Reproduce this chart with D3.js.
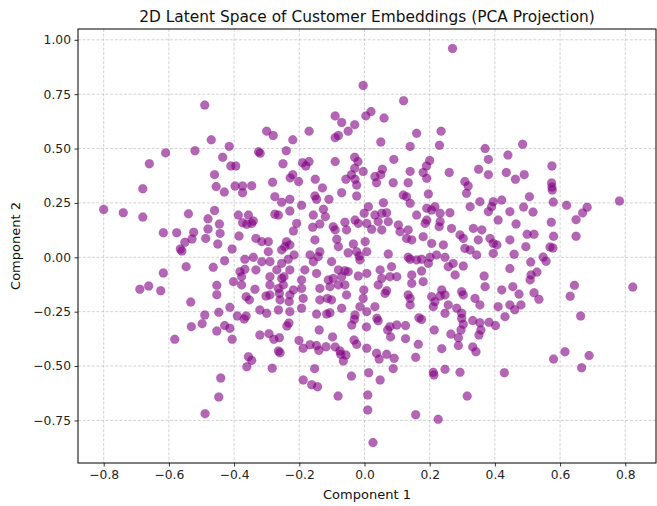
<!DOCTYPE html>
<html>
<head>
<meta charset="utf-8">
<script src="https://cdn.jsdelivr.net/npm/d3@7"></script>
<style>
  body { margin: 0; background: #fff; }
  svg { display: block; }
  text { font-family: "DejaVu Sans", sans-serif; }
</style>
</head>
<body>
<svg id="chart" width="657" height="506"></svg>
<script>
// PCA projection of customer embeddings: first and second principal components
const component1 = [
  -0.49,-0.47,-0.61,-0.52,-0.66,-0.435,-0.46,-0.004,-0.09,0.004,
  -0.07,-0.03,-0.05,-0.08,-0.09,-0.17,-0.30,-0.28,-0.22,-0.24,
  -0.325,-0.32,-0.415,-0.41,-0.395,-0.25,-0.19,-0.17,-0.18,-0.22,
  -0.09,-0.03,-0.02,-0.03,-0.04,0.27,0.12,0.02,0.06,0.16,
  0.235,0.05,0.14,0.23,0.09,0.20,0.19,0.18,0.14,0.055,
  0.05,0.26,0.37,0.38,0.35,0.38,0.44,0.435,0.485,0.575,
  0.49,-0.455,-0.43,-0.68,-0.80,-0.74,-0.68,-0.54,-0.46,-0.48,
  -0.445,-0.48,-0.443,-0.617,-0.576,-0.524,-0.529,-0.551,-0.487,-0.450,
  -0.565,-0.560,-0.429,-0.547,-0.464,-0.617,-0.689,-0.662,-0.625,-0.453,
  -0.453,-0.533,-0.490,-0.447,-0.531,-0.498,-0.453,-0.429,-0.582,-0.441,
  -0.447,-0.489,0.663,0.580,0.615,0.689,0.666,0.463,0.574,0.575,
  0.576,0.506,0.579,0.488,0.517,0.446,0.620,0.683,0.669,0.649,
  0.782,0.573,0.465,0.499,0.520,0.580,0.649,0.446,0.495,0.569,
  0.578,0.459,0.548,0.557,0.510,0.446,0.529,0.511,0.508,0.455,
  0.644,0.823,0.474,0.520,0.535,0.631,0.446,0.480,0.461,-0.390,
  -0.369,-0.363,-0.413,-0.406,-0.232,-0.238,-0.031,-0.039,0.006,-0.139,
  -0.321,-0.293,-0.278,-0.261,-0.264,-0.259,-0.356,-0.346,-0.361,-0.283,
  -0.201,-0.188,-0.167,-0.147,-0.140,-0.118,-0.098,-0.090,-0.075,-0.073,
  -0.057,-0.065,-0.032,-0.024,0.007,-0.188,-0.162,-0.144,-0.153,-0.040,
  -0.081,0.010,0.010,0.013,0.026,0.038,0.042,0.071,0.078,0.099,
  0.126,0.080,0.126,0.167,0.175,0.165,0.157,0.037,0.045,0.068,
  0.091,0.088,0.048,0.157,0.226,0.214,0.211,0.213,0.247,0.293,
  0.315,0.237,0.265,0.288,0.288,0.296,0.303,0.298,0.332,0.354,
  0.357,0.351,0.382,0.402,0.332,0.342,0.429,-0.228,-0.202,-0.282,
  -0.151,-0.129,-0.057,-0.029,-0.024,-0.004,-0.397,-0.374,-0.346,-0.374,
  -0.275,-0.254,-0.229,-0.152,-0.147,-0.109,-0.070,-0.024,-0.193,-0.126,
  0.012,-0.387,-0.356,-0.275,-0.264,-0.229,-0.157,-0.137,-0.120,-0.096,
  -0.090,-0.374,-0.361,-0.346,-0.341,-0.208,-0.218,-0.060,-0.055,-0.029,
  -0.019,-0.001,0.007,-0.159,-0.385,-0.333,-0.315,-0.295,-0.239,-0.229,
  -0.244,-0.254,-0.216,-0.152,-0.085,-0.080,-0.034,0.002,-0.406,-0.295,
  -0.167,-0.137,-0.142,-0.050,-0.024,-0.016,0.007,-0.367,-0.341,-0.315,
  -0.290,-0.254,-0.234,-0.183,-0.157,-0.101,-0.060,-0.080,-0.014,-0.367,
  -0.333,-0.269,-0.229,-0.382,-0.402,-0.377,-0.290,-0.254,-0.247,-0.193,
  -0.147,-0.111,-0.096,-0.070,-0.050,-0.019,0.007,-0.377,-0.336,-0.290,
  -0.249,-0.264,-0.218,-0.193,-0.137,-0.106,-0.080,-0.060,-0.002,-0.363,
  -0.353,-0.302,-0.290,-0.261,-0.259,-0.229,-0.231,-0.188,-0.137,-0.114,
  -0.101,-0.055,-0.004,-0.413,-0.321,-0.300,-0.264,-0.229,-0.193,-0.147,
  -0.116,-0.106,-0.070,-0.029,-0.014,0.007,0.032,0.037,0.088,0.134,
  0.191,0.308,0.318,0.313,0.119,0.129,0.140,0.196,0.058,0.191,
  0.206,0.216,0.262,0.232,0.324,0.354,0.390,0.395,0.421,0.032,
  0.053,0.068,0.042,0.073,0.104,0.160,0.186,0.191,0.232,0.229,
  0.267,0.380,0.410,0.022,0.053,0.109,0.134,0.129,0.145,0.180,
  0.206,0.242,0.293,0.303,0.308,0.324,0.334,0.360,0.349,0.385,
  0.395,0.406,0.395,0.073,0.134,0.140,0.160,0.201,0.221,0.175,
  0.196,0.247,0.257,0.272,0.303,0.344,0.367,0.048,0.083,0.099,
  0.078,0.053,0.145,0.175,0.278,0.042,0.068,0.063,0.145,0.180,
  0.237,0.247,0.232,0.298,0.303,0.370,0.421,0.134,0.140,0.032,
  0.206,0.216,0.211,0.257,0.283,0.298,0.339,0.354,0.410,0.140,
  0.247,0.431
];

const component2 = [
  0.70,0.54,0.48,0.49,0.43,0.46,0.38,0.79,0.65,0.65,
  0.62,0.61,0.58,0.56,0.55,0.58,0.58,0.56,0.54,0.49,
  0.485,0.478,0.51,0.42,0.42,0.43,0.435,0.44,0.42,0.38,
  0.44,0.46,0.44,0.41,0.38,0.96,0.72,0.67,0.64,0.57,
  0.58,0.53,0.51,0.515,0.45,0.445,0.42,0.39,0.395,0.405,
  0.38,0.39,0.50,0.45,0.405,0.38,0.47,0.39,0.52,0.42,
  0.38,0.325,0.30,0.315,0.22,0.205,0.185,0.20,0.215,0.177,
  0.153,0.13,0.11,0.113,0.113,0.115,0.084,0.069,0.087,0.061,
  0.038,0.029,-0.016,-0.043,-0.046,-0.072,-0.147,-0.132,-0.154,-0.129,
  -0.172,-0.206,-0.265,-0.253,-0.319,-0.305,-0.339,-0.314,-0.377,-0.555,
  -0.642,-0.719,-0.270,-0.468,-0.434,-0.452,-0.508,0.359,0.342,0.323,
  0.309,0.279,0.254,0.231,0.208,0.210,0.239,0.230,0.204,0.173,
  0.259,0.161,0.153,0.106,0.106,0.097,0.097,0.080,0.049,0.047,
  0.043,0.014,0.001,-0.018,-0.022,-0.052,-0.068,-0.081,-0.104,-0.135,
  -0.129,-0.137,-0.169,-0.163,-0.193,-0.179,-0.219,-0.219,-0.241,-0.270,
  -0.284,-0.270,-0.326,-0.377,-0.302,-0.316,-0.285,-0.311,-0.320,-0.334,
  -0.357,-0.351,-0.377,-0.370,-0.431,-0.439,-0.457,-0.474,-0.503,-0.510,
  -0.382,-0.418,-0.402,-0.406,-0.428,-0.411,-0.366,-0.412,-0.431,-0.446,
  -0.449,-0.477,-0.380,-0.400,-0.418,-0.564,-0.586,-0.595,-0.512,-0.546,
  -0.638,-0.633,-0.702,-0.531,-0.852,-0.280,-0.292,-0.334,-0.319,-0.311,
  -0.314,-0.366,-0.374,-0.278,-0.286,-0.400,-0.460,-0.441,-0.468,-0.446,
  -0.464,-0.512,-0.564,-0.724,-0.745,-0.334,-0.529,-0.541,-0.515,-0.529,
  -0.638,-0.420,-0.353,-0.370,-0.406,-0.334,-0.308,-0.280,-0.291,-0.301,
  -0.334,-0.357,-0.299,-0.314,-0.412,-0.434,-0.531,0.365,0.348,0.345,
  0.359,0.319,0.359,0.359,0.332,0.394,0.328,0.328,0.329,0.297,
  0.279,0.253,0.267,0.282,0.267,0.267,0.297,0.282,0.239,0.221,
  0.233,0.194,0.194,0.198,0.194,0.213,0.194,0.153,0.187,0.141,
  0.126,0.159,0.152,0.156,0.167,0.156,0.121,0.161,0.126,0.171,
  0.156,0.202,0.156,0.138,0.098,0.087,0.072,0.072,0.072,0.057,
  0.049,0.034,0.011,0.080,0.083,0.049,0.061,0.072,0.038,0.026,
  0.011,0.026,0.003,0.021,0.026,0.006,0.026,-0.009,0.000,-0.020,
  -0.020,-0.028,-0.009,-0.058,-0.020,-0.020,-0.062,-0.058,-0.012,-0.055,
  -0.058,-0.058,-0.058,-0.066,-0.112,-0.089,-0.089,-0.097,-0.089,-0.104,
  -0.074,-0.104,-0.097,-0.089,-0.066,-0.086,-0.074,-0.127,-0.147,-0.127,
  -0.127,-0.143,-0.150,-0.143,-0.143,-0.135,-0.127,-0.127,-0.150,-0.181,
  -0.196,-0.178,-0.173,-0.166,-0.196,-0.173,-0.204,-0.189,-0.196,-0.189,
  -0.196,-0.173,-0.189,-0.230,-0.242,-0.257,-0.242,-0.250,-0.234,-0.261,
  -0.261,-0.255,-0.234,-0.265,-0.227,-0.250,0.371,0.343,0.343,0.343,
  0.363,0.348,0.328,0.294,0.286,0.279,0.248,0.291,0.251,0.225,
  0.217,0.233,0.205,0.202,0.233,0.256,0.233,0.256,0.263,0.194,
  0.202,0.205,0.164,0.164,0.149,0.194,0.156,0.171,0.164,0.141,
  0.133,0.210,0.171,0.129,0.126,0.118,0.126,0.087,0.080,0.095,
  0.064,0.057,0.103,0.087,0.041,0.034,0.133,0.126,0.080,0.087,
  0.064,0.057,0.018,0.015,0.000,-0.009,-0.012,0.000,0.011,-0.009,
  -0.028,0.000,-0.043,-0.028,-0.040,0.011,-0.086,-0.058,-0.043,-0.089,
  -0.089,-0.097,-0.081,-0.063,-0.081,-0.127,-0.154,-0.166,-0.120,-0.112,
  -0.150,-0.173,-0.178,-0.158,-0.173,-0.135,-0.150,-0.173,-0.189,-0.227,
  -0.181,-0.204,-0.227,-0.219,-0.234,-0.257,-0.189,-0.219,-0.227,-0.219,
  -0.257,-0.273
];

const xTickValues = [-0.8, -0.6, -0.4, -0.2, 0.0, 0.2, 0.4, 0.6, 0.8];
const yTickValues = [-0.75, -0.50, -0.25, 0.00, 0.25, 0.50, 0.75, 1.00];

const titleText = "2D Latent Space of Customer Embeddings (PCA Projection)";
const xLabelText = "Component 1";
const yLabelText = "Component 2";

const points = component1.map((c1, i) => ({ c1, c2: component2[i] }));

const svg = d3.select("#chart");
const plot = { left: 78, right: 656, top: 29, bottom: 463 };

const x = d3.scaleLinear().domain([-0.8788, 0.8942]).range([plot.left, plot.right]);
const y = d3.scaleLinear().domain([-0.9457, 1.0497]).range([plot.bottom, plot.top]);

const minus = s => s.replace("-", "\u2212");

// dashed grid
const grid = svg.append("g").attr("class", "grid")
  .attr("stroke", "#b0b0b0").attr("stroke-width", 0.8)
  .attr("stroke-dasharray", "3,1.6").attr("stroke-opacity", 0.7);
grid.selectAll("line.v").data(xTickValues).join("line").attr("class", "v")
  .attr("x1", d => x(d)).attr("x2", d => x(d))
  .attr("y1", plot.top).attr("y2", plot.bottom);
grid.selectAll("line.h").data(yTickValues).join("line").attr("class", "h")
  .attr("y1", d => y(d)).attr("y2", d => y(d))
  .attr("x1", plot.left).attr("x2", plot.right);

// scatter
svg.append("g").selectAll("circle").data(points).join("circle")
  .attr("cx", d => x(d.c1)).attr("cy", d => y(d.c2))
  .attr("r", 4.5)
  .attr("fill", "#800080").attr("fill-opacity", 0.6)
  .attr("stroke", "#800080").attr("stroke-opacity", 0.2).attr("stroke-width", 0.6);

// axes
const xAxis = d3.axisBottom(x).tickValues(xTickValues)
  .tickFormat(d => minus(d3.format(".1f")(d))).tickSize(3.5).tickPadding(3.5);
const yAxis = d3.axisLeft(y).tickValues(yTickValues)
  .tickFormat(d => minus(d3.format(".2f")(d))).tickSize(3.5).tickPadding(3.5);

const gx = svg.append("g").attr("transform", `translate(0,${plot.bottom})`).call(xAxis);
const gy = svg.append("g").attr("transform", `translate(${plot.left},0)`).call(yAxis);
[gx, gy].forEach(g => {
  g.select(".domain").remove();
  g.selectAll(".tick line").attr("stroke", "#000").attr("stroke-width", 0.8);
  g.selectAll(".tick text").attr("fill", "#222").attr("font-size", 12.3)
    .attr("font-family", "DejaVu Sans, sans-serif");
});

// frame
svg.append("rect")
  .attr("x", plot.left).attr("y", plot.top)
  .attr("width", plot.right - plot.left).attr("height", plot.bottom - plot.top)
  .attr("fill", "none").attr("stroke", "#000").attr("stroke-width", 1);

// title and axis labels
svg.append("text").attr("x", (plot.left + plot.right) / 2).attr("y", 22)
  .attr("text-anchor", "middle").attr("font-size", 15.4).attr("fill", "#111")
  .text(titleText);
svg.append("text").attr("x", (plot.left + plot.right) / 2).attr("y", 499)
  .attr("text-anchor", "middle").attr("font-size", 13).attr("fill", "#111")
  .text(xLabelText);
svg.append("text")
  .attr("transform", `translate(20,${(plot.top + plot.bottom) / 2}) rotate(-90)`)
  .attr("text-anchor", "middle").attr("font-size", 13).attr("fill", "#111")
  .text(yLabelText);
</script>
</body>
</html>
